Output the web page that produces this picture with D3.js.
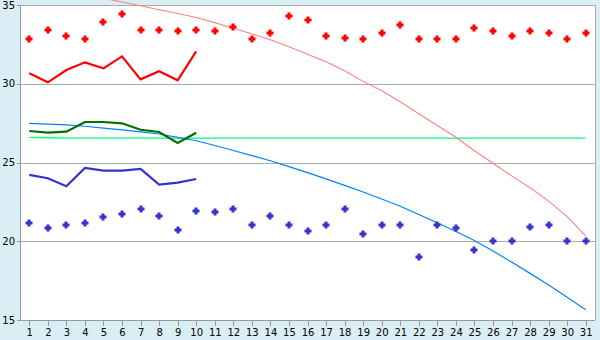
<!DOCTYPE html>
<html>
<head>
<meta charset="utf-8">
<script src="https://cdn.jsdelivr.net/npm/d3@7"></script>
<style>
  html, body { margin: 0; padding: 0; background: #d9eff5; }
  svg { display: block; }
  text { font-family: 'DejaVu Sans', sans-serif; font-size: 10px; fill: #000; }
</style>
</head>
<body>
<div id="chart"></div>
<script>
/* ── data ─────────────────────────────────────────────── */
const days = d3.range(1, 32);
const yTicks = [15, 20, 25, 30, 35];

const redPoints = [32.82, 33.39, 33.01, 32.82, 33.90, 34.41, 33.39, 33.39, 33.33, 33.39,
  33.33, 33.58, 32.82, 33.20, 34.28, 34.03, 33.01, 32.89, 32.82, 33.20,
  33.71, 32.82, 32.82, 32.82, 33.52, 33.33, 33.01, 33.33, 33.20, 32.82, 33.20];
const bluePoints = [21.14, 20.82, 21.01, 21.14, 21.52, 21.71, 22.03, 21.58, 20.69, 21.90,
  21.84, 22.03, 21.01, 21.58, 21.01, 20.63, 21.01, 22.03, 20.44, 21.01,
  21.01, 18.98, 21.01, 20.82, 19.43, 20.00, 20.00, 20.89, 21.01, 20.00, 20.00];
const redLine   = [30.66, 30.09, 30.87, 31.36, 30.98, 31.74, 30.28, 30.79, 30.22, 32.06];
const greenLine = [27.00, 26.90, 26.96, 27.57, 27.57, 27.49, 27.08, 26.94, 26.24, 26.89];
const blueLine  = [24.21, 24.00, 23.49, 24.65, 24.48, 24.48, 24.59, 23.59, 23.72, 23.95];
const blueTrend = [27.49, 27.44, 27.39, 27.30, 27.18, 27.07, 26.94, 26.81, 26.60, 26.38,
  26.08, 25.76, 25.44, 25.11, 24.74, 24.36, 23.96, 23.55, 23.13, 22.68,
  22.22, 21.70, 21.17, 20.62, 20.05, 19.38, 18.68, 17.96, 17.22, 16.45, 15.65];
const pinkTrend = [36.02, 35.91, 35.78, 35.62, 35.43, 35.19, 34.95, 34.70, 34.46, 34.21,
  33.88, 33.52, 33.17, 32.80, 32.35, 31.88, 31.39, 30.82, 30.15, 29.55,
  28.86, 28.10, 27.35, 26.60, 25.75, 24.95, 24.15, 23.40, 22.55, 21.56, 20.33];
const greenFlat = [26.60, 26.57, 26.55, 26.55, 26.55, 26.55, 26.55, 26.55, 26.55, 26.55,
  26.55, 26.55, 26.55, 26.55, 26.55, 26.55, 26.55, 26.55, 26.55, 26.55,
  26.55, 26.55, 26.55, 26.55, 26.55, 26.55, 26.55, 26.55, 26.55, 26.55, 26.55];

/* ── chart ────────────────────────────────────────────── */
const W = 600, H = 340;
const m = { l: 20, r: 5, t: 5, b: 20 };

const svg = d3.select('#chart').append('svg')
  .attr('width', W).attr('height', H);

const x = d3.scalePoint().domain(days).range([m.l, W - m.r]).padding(0.5);
const y = d3.scaleLinear().domain([15, 35]).range([H - m.b, m.t]);

/* plot background */
svg.append('rect')
  .attr('x', m.l).attr('y', m.t)
  .attr('width', W - m.l - m.r).attr('height', H - m.t - m.b)
  .attr('fill', '#fff');

/* grid */
svg.append('g').attr('transform', `translate(${m.l},0)`)
  .call(d3.axisLeft(y).tickValues(yTicks).tickSize(-(W - m.l - m.r)).tickFormat(''))
  .call(g => g.select('.domain').remove())
  .call(g => g.selectAll('line').attr('stroke', '#aaa').attr('shape-rendering', 'crispEdges'));

/* right border */
svg.append('line')
  .attr('x1', W - m.r + 0.5).attr('x2', W - m.r + 0.5)
  .attr('y1', m.t).attr('y2', H - m.b)
  .attr('stroke', '#aaa').attr('shape-rendering', 'crispEdges');

/* axes */
const yAxis = svg.append('g').attr('transform', `translate(${m.l},0)`)
  .call(d3.axisLeft(y).tickValues(yTicks).tickSize(3).tickPadding(2));
const xAxis = svg.append('g').attr('transform', `translate(0,${H - m.b})`)
  .call(d3.axisBottom(x).tickSize(6).tickPadding(3));
[yAxis, xAxis].forEach(a => {
  a.selectAll('path, line').attr('stroke', '#999').attr('shape-rendering', 'crispEdges');
  a.selectAll('text').attr('font-size', 10).attr('font-family', 'DejaVu Sans, sans-serif').attr('fill', '#000');
});
xAxis.select('.domain').attr('d', `M${m.l},0.5H${W - m.r}`);

/* lines */
const line = d3.line().x((d, i) => x(days[i])).y(d => y(d));

function drawLine(data, color, width) {
  svg.append('path')
    .datum(data)
    .attr('fill', 'none')
    .attr('stroke', color)
    .attr('stroke-width', width)
    .attr('d', line);
}

drawLine(greenFlat, '#00ff80', 1.3);
drawLine(pinkTrend, '#ff8080', 1.1);
drawLine(blueTrend, '#0080ff', 1.2);
drawLine(redLine, '#ff0000', 2.2);
drawLine(greenLine, '#007000', 2.2);
drawLine(blueLine, '#3333cc', 2.2);

/* markers: small pixel diamond */
const marker = 'M-1.5,-3.5h3v2h2v3h-2v2h-3v-2h-2v-3h2z';

function drawPoints(data, color) {
  svg.append('g').selectAll('path')
    .data(data).join('path')
    .attr('transform', (d, i) => `translate(${Math.round(x(days[i]))},${Math.round(y(d))})`)
    .attr('d', marker)
    .attr('fill', color);
}

drawPoints(redPoints, '#ff0000');
drawPoints(bluePoints, '#3333cc');
</script>
</body>
</html>
